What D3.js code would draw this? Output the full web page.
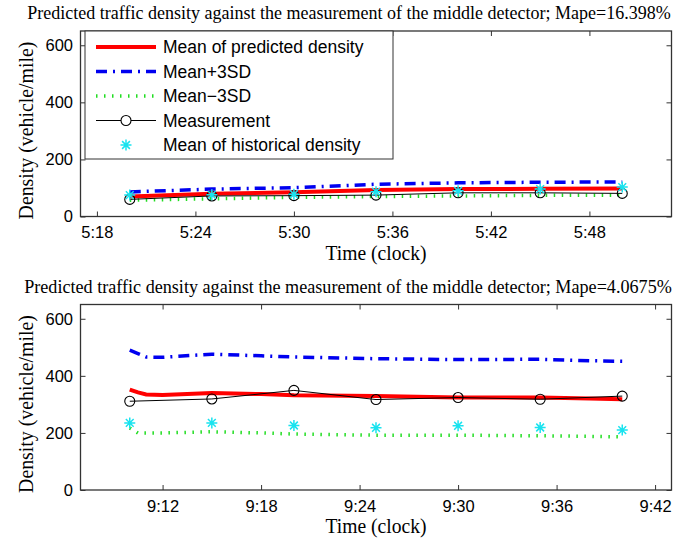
<!DOCTYPE html>
<html>
<head>
<meta charset="utf-8">
<script src="https://cdn.jsdelivr.net/npm/d3@7"></script>
<style>
  body { margin: 0; background: #fff; }
  .tick text { font-family: "Liberation Sans", Arial, sans-serif; font-size: 16.5px; fill: #000; }
  .tick line { stroke: #333; }
  .serif { font-family: "Liberation Serif", "Times New Roman", serif; fill: #000; }
</style>
</head>
<body>
<script>
// ---- data ----
// upper panel (5:18 - 5:48)
var topTimes = ["5:20", "5:25", "5:30", "5:35", "5:40", "5:45", "5:50"];
var topMeasured = [60, 72, 73, 75, 83, 83, 81];
var topHistorical = [75, 76, 78, 87, 90, 96, 103];
var topMean = [70, 80, 85, 93, 96, 97, 98];
var topUpper = [86, 96, 101, 113, 118, 120, 121];
var topLower = [57, 62, 67, 70, 72, 74, 75];
var topTickLabels = ["5:18", "5:24", "5:30", "5:36", "5:42", "5:48"];
var topMape = "16.398%";

// lower panel (9:12 - 9:42)
var botTimes = ["9:10", "9:15", "9:20", "9:25", "9:30", "9:35", "9:40"];
var botMeasured = [311, 319, 349, 317, 324, 318, 329];
var botHistorical = [235, 235, 226, 218, 225, 219, 210];
var botCurveTimes = ["9:10", "9:10:30", "9:11", "9:12", "9:15", "9:18", "9:20", "9:25", "9:30", "9:35", "9:38", "9:40"];
var botMean = [352, 342, 335, 333, 340, 336, 332, 329, 324, 324, 321, 318];
var botUpper = [490, 478, 466, 465, 476, 470, 466, 460, 457, 458, 453, 451];
var botLower = [217, 200, 200, 200, 204, 200, 196, 192, 192, 190, 188, 186];
var botTickLabels = ["9:12", "9:18", "9:24", "9:30", "9:36", "9:42"];
var botMape = "4.0675%";

var yTickLabels = [0, 200, 400, 600];
var legendLabels = ["Mean of predicted density", "Mean+3SD", "Mean\u22123SD", "Measurement", "Mean of historical density"];

// "h:mm" or "h:mm:ss" -> minutes after midnight
function toMin(s) {
    var p = s.split(":").map(Number);
    return p[0] * 60 + p[1] + (p[2] || 0) / 60;
}
function fmtMin(m) {
    var h = Math.floor(m / 60), mm = Math.round(m - h * 60);
    return h + ":" + (mm < 10 ? "0" : "") + mm;
}

var W = 687, H = 542;
var svg = d3.select("body").append("svg")
    .attr("width", W)
    .attr("height", H);
svg.append("rect").attr("width", W).attr("height", H).attr("fill", "#fff");

var colors = { mean: "#ff0000", upper: "#0000f0", lower: "#22dd22", meas: "#000", hist: "#19e3ef" };

var starPath = "M-5.5,0H5.5M0,-5.5V5.5M-3.9,-3.9L3.9,3.9M-3.9,3.9L3.9,-3.9";

// serif text squeezed horizontally to a given width (the figure uses a narrow Times)
function squeezedText(parent, txt, cx, cy, size, width, rotate) {
    var t = parent.append("text").attr("class", "serif")
        .attr("text-anchor", "middle").attr("font-size", size)
        .text(txt);
    var sx = width / t.node().getComputedTextLength();
    t.attr("transform", "translate(" + cx + "," + cy + ")" +
        (rotate ? " rotate(" + rotate + ")" : "") + " scale(" + sx + ",1)");
    return t;
}

function drawPanel(p) {
    var left = 80.5, right = 671.5;
    var x = d3.scaleLinear().domain([p.x0, p.x1]).range([left, right]);
    var y = d3.scaleLinear().domain([0, 650]).range([p.bottom, p.top]);
    var g = svg.append("g");
    var tickVals = p.ticks.map(toMin);

    // title
    squeezedText(g, "Predicted traffic density against the measurement of the middle detector; Mape=" + p.mape,
        p.titleX, p.titleY, 19, p.titleLen);

    // axes with inward ticks
    g.append("g").attr("transform", "translate(0," + p.bottom + ")")
        .call(d3.axisBottom(x).tickValues(tickVals).tickFormat(fmtMin).tickSize(-5).tickPadding(10))
        .call(function(a) { a.select(".domain").remove(); });
    g.append("g").attr("transform", "translate(0," + p.top + ")")
        .call(d3.axisTop(x).tickValues(tickVals).tickFormat("").tickSize(-5))
        .call(function(a) { a.select(".domain").remove(); });
    g.append("g").attr("transform", "translate(" + left + ",0)")
        .call(d3.axisLeft(y).tickValues(yTickLabels).tickSize(-5).tickPadding(7.5))
        .call(function(a) { a.select(".domain").remove(); });
    g.append("g").attr("transform", "translate(" + right + ",0)")
        .call(d3.axisRight(y).tickValues(yTickLabels).tickFormat("").tickSize(-5))
        .call(function(a) { a.select(".domain").remove(); });

    // frame
    g.append("rect")
        .attr("x", left).attr("y", p.top)
        .attr("width", right - left).attr("height", p.bottom - p.top)
        .attr("fill", "none").attr("stroke", "#333").attr("stroke-width", 1.3);

    // axis labels
    squeezedText(g, "Time (clock)", 376, p.bottom + 43, 20, 101);
    squeezedText(g, "Density (vehicle/mile)", 33, p.bottom - 86, 20, 178, -90);

    var line = d3.line()
        .x(function(d) { return x(d[0]); })
        .y(function(d) { return y(d[1]); });
    var ct = p.curveTimes.map(toMin);
    var mt = p.times.map(toMin);
    function pairs(t, v) { return t.map(function(d, i) { return [d, v[i]]; }); }

    g.append("path").datum(pairs(ct, p.lower)).attr("d", line)
        .attr("fill", "none").attr("stroke", colors.lower)
        .attr("stroke-width", 3.5).attr("stroke-dasharray", "1.5,6.5");
    g.append("path").datum(pairs(ct, p.upper)).attr("d", line)
        .attr("fill", "none").attr("stroke", colors.upper)
        .attr("stroke-width", 3.5).attr("stroke-dasharray", "11,6,2,6");
    g.append("path").datum(pairs(ct, p.mean)).attr("d", line)
        .attr("fill", "none").attr("stroke", colors.mean)
        .attr("stroke-width", 4);
    g.append("path").datum(pairs(mt, p.measured)).attr("d", line)
        .attr("fill", "none").attr("stroke", colors.meas).attr("stroke-width", 1);
    g.selectAll("circle.meas").data(pairs(mt, p.measured)).enter()
        .append("circle").attr("class", "meas")
        .attr("cx", function(d) { return x(d[0]); })
        .attr("cy", function(d) { return y(d[1]); })
        .attr("r", 5).attr("fill", "none")
        .attr("stroke", colors.meas).attr("stroke-width", 1.1);
    g.selectAll("path.star").data(pairs(mt, p.historical)).enter()
        .append("path").attr("class", "star")
        .attr("transform", function(d) { return "translate(" + x(d[0]) + "," + y(d[1]) + ")"; })
        .attr("d", starPath)
        .attr("fill", "none").attr("stroke", colors.hist).attr("stroke-width", 1.5);
}

drawPanel({
    x0: toMin("5:17"), x1: toMin("5:53"), top: 31, bottom: 216.5,
    titleX: 349, titleY: 19, titleLen: 644, mape: topMape,
    ticks: topTickLabels, times: topTimes, curveTimes: topTimes,
    measured: topMeasured, historical: topHistorical,
    mean: topMean, upper: topUpper, lower: topLower
});
drawPanel({
    x0: toMin("9:07"), x1: toMin("9:43"), top: 304.5, bottom: 490,
    titleX: 348, titleY: 293, titleLen: 648, mape: botMape,
    ticks: botTickLabels, times: botTimes, curveTimes: botCurveTimes,
    measured: botMeasured, historical: botHistorical,
    mean: botMean, upper: botUpper, lower: botLower
});

// legend (upper panel only)
var leg = svg.append("g");
leg.append("rect")
    .attr("x", 85).attr("y", 31).attr("width", 308).attr("height", 128)
    .attr("fill", "#fff").attr("stroke", "#333").attr("stroke-width", 1);
var legY = d3.scalePoint().domain(legendLabels).range([47, 145]);
var legStyles = [
    { stroke: colors.mean, width: 4, dash: null },
    { stroke: colors.upper, width: 3.5, dash: "11,6,2,6" },
    { stroke: colors.lower, width: 3.5, dash: "1.5,6.5" },
    { stroke: colors.meas, width: 1, dash: null },
    null
];
legendLabels.forEach(function(lab, i) {
    var yy = legY(lab);
    var s = legStyles[i];
    if (s) {
        leg.append("line")
            .attr("x1", 96).attr("x2", 156).attr("y1", yy).attr("y2", yy)
            .attr("stroke", s.stroke).attr("stroke-width", s.width)
            .attr("stroke-dasharray", s.dash);
    }
    if (i === 3) {
        leg.append("circle").attr("cx", 126).attr("cy", yy).attr("r", 5)
            .attr("fill", "#fff").attr("stroke", colors.meas).attr("stroke-width", 1.1);
    }
    if (i === 4) {
        leg.append("path").attr("transform", "translate(126," + yy + ")")
            .attr("d", starPath).attr("fill", "none")
            .attr("stroke", colors.hist).attr("stroke-width", 1.5);
    }
    leg.append("text")
        .attr("x", 163).attr("y", yy).attr("dy", "0.36em")
        .attr("font-family", "Liberation Sans, Arial, sans-serif")
        .attr("font-size", 17.5)
        .text(lab);
});
</script>
</body>
</html>
